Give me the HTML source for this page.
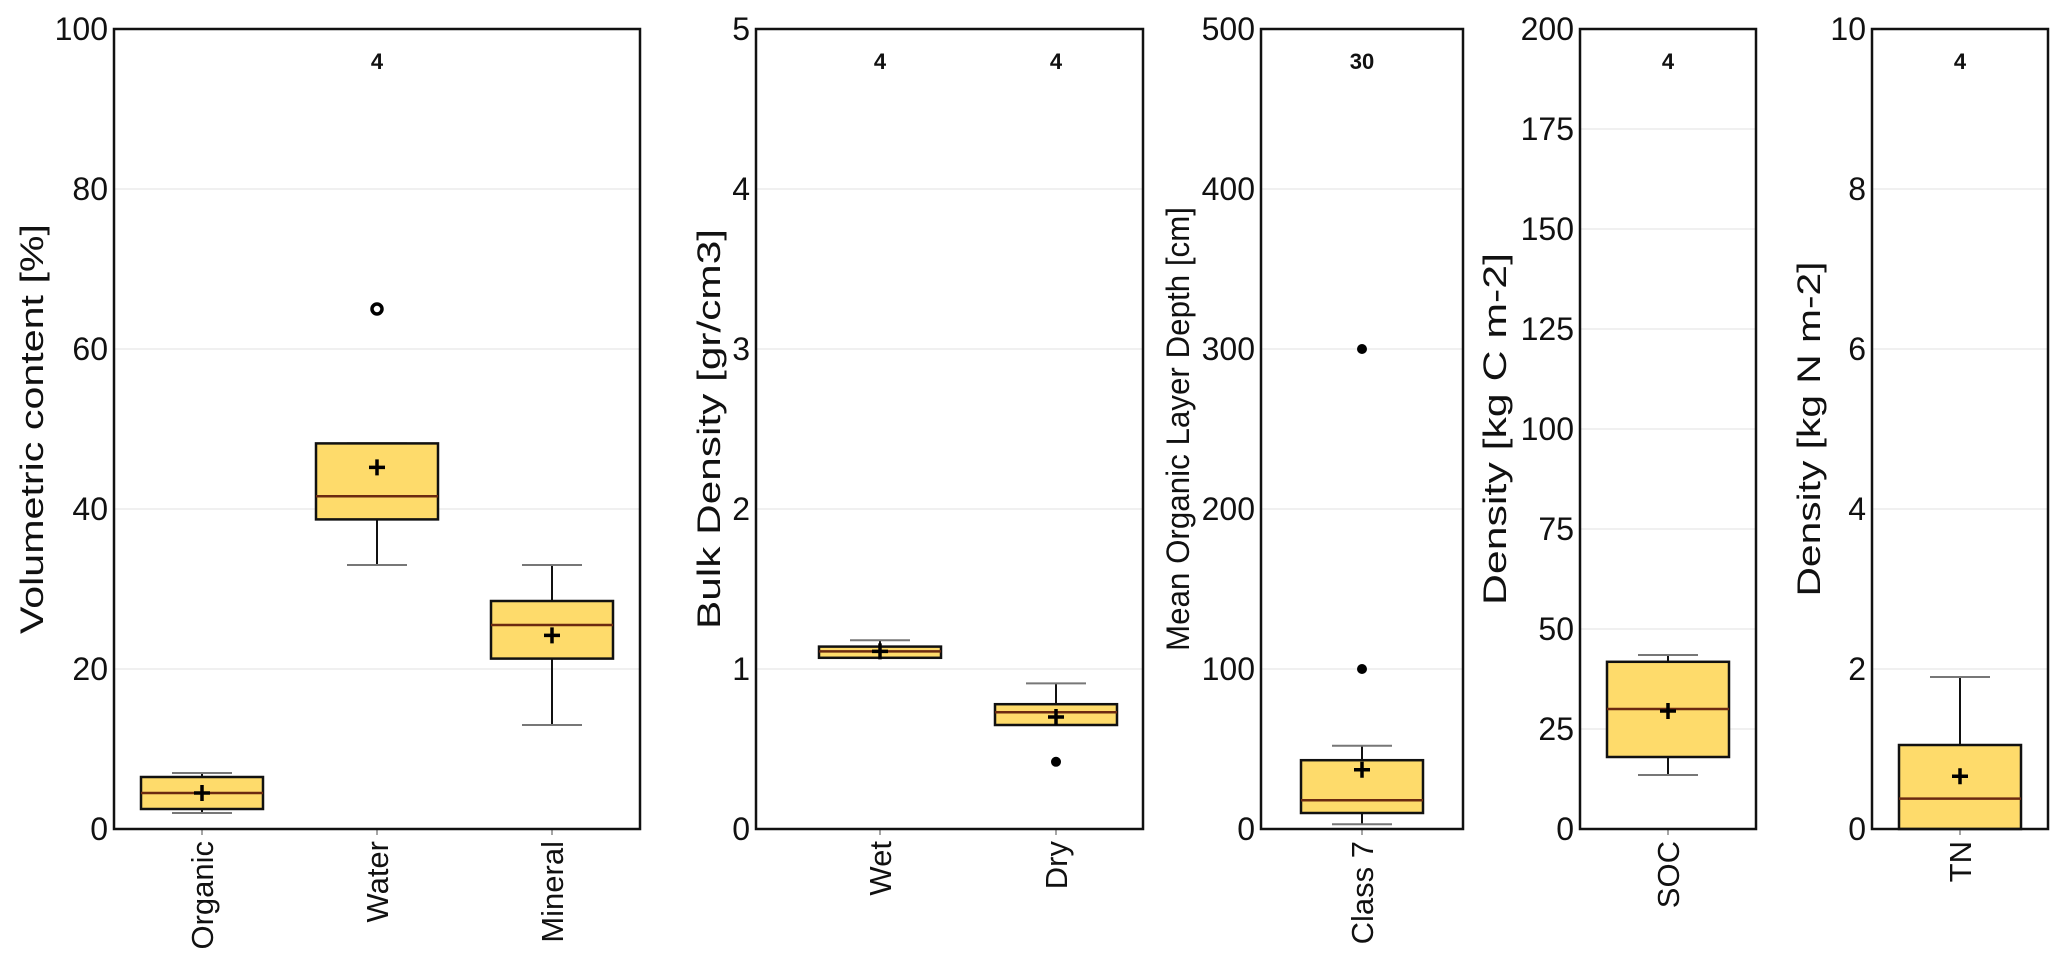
<!DOCTYPE html>
<html><head><meta charset="utf-8"><style>
html,body{margin:0;padding:0;background:#fff;}
svg{display:block;font-family:"Liberation Sans",Arial,sans-serif;}
</style></head><body>
<svg id="chart" width="2067" height="978" viewBox="0 0 2067 978" xmlns="http://www.w3.org/2000/svg"></svg>
<script>
const panelTitles = ["Volumetric content [%]","Bulk Density [gr/cm3]","Mean Organic Layer Depth [cm]","Density [kg C m-2]","Density [kg N m-2]"];
const panelMax = [100,5,500,200,10];
const panelTicks = [[0,20,40,60,80,100],[0,1,2,3,4,5],[0,100,200,300,400,500],[0,25,50,75,100,125,150,175,200],[0,2,4,6,8,10]];
const categories = [["Organic","Water","Mineral"],["Wet","Dry"],["Class 7"],["SOC"],["TN"]];
const counts = [[null,4,null],[4,4],[30],[4],[4]];
// [whiskerLow, q1, median, q3, whiskerHigh]
const boxStats = [
 [[2,2.5,4.5,6.5,7],[33,38.7,41.6,48.2,48.2],[13,21.3,25.5,28.5,33]],
 [[1.07,1.07,1.11,1.14,1.18],[0.65,0.65,0.73,0.78,0.91]],
 [[3,10,18,43,52]],
 [[13.5,18,30,41.8,43.5]],
 [[0,0,0.38,1.05,1.9]]
];
const means = [[4.5,45.2,24.2],[1.11,0.70],[37],[29.5],[0.66]];
const outliers = [[[],[65],[]],[[],[0.42]],[[100,300]],[[]],[[]]];

const layout = [
 {l:114,r:640,titleX:31,centers:[88,263,438],tl:410},
 {l:756,r:1143,titleX:708,centers:[124,300],tl:400},
 {l:1261,r:1463,titleX:1177,centers:[101],tl:444},
 {l:1580,r:1756,titleX:1494,centers:[88],tl:352},
 {l:1872,r:2048,titleX:1808,centers:[88],tl:335}
];
const TOP=29,BOT=829,BOXW=122;
const svg=document.getElementById('chart');
const NS="http://www.w3.org/2000/svg";
function mk(tag,attrs,parent){const e=document.createElementNS(NS,tag);for(const k in attrs)e.setAttribute(k,attrs[k]);(parent||svg).appendChild(e);return e;}
panelMax.forEach((mx,p)=>{
 const L=layout[p];
 const g=mk('g',{});
 
 
 const y=v=>BOT-(v/mx)*(BOT-TOP);
 panelTicks[p].forEach(t=>{
  if(t>0&&t<mx){const gl=mk('line',{x1:L.l,x2:L.r,y1:y(t),y2:y(t),stroke:'#ececec','stroke-width':1.5},g);
   
   }
  const tl=mk('text',{x:L.l-6,y:y(t)+11,'text-anchor':'end','font-size':32,fill:'#111'},g);
  tl.textContent=t;
  
  
 });
 const tt=mk('text',{x:0,y:0,transform:`translate(${L.titleX+12},${(TOP+BOT)/2}) rotate(-90)`,'text-anchor':'middle','font-size':32,fill:'#111',textLength:L.tl,lengthAdjust:'spacingAndGlyphs'},g);
 tt.textContent=panelTitles[p];
 
 
 categories[p].forEach((c,i)=>{
  const cx=L.l+L.centers[i];
  const s=boxStats[p][i];
  const cg=mk('g',{},g);
  
  
  mk('line',{x1:cx,x2:cx,y1:y(s[0]),y2:y(s[1]),stroke:'#111','stroke-width':2},cg);
  mk('line',{x1:cx,x2:cx,y1:y(s[3]),y2:y(s[4]),stroke:'#111','stroke-width':2},cg);
  mk('line',{x1:cx-30,x2:cx+30,y1:y(s[0]),y2:y(s[0]),stroke:'#777','stroke-width':2},cg);
  mk('line',{x1:cx-30,x2:cx+30,y1:y(s[4]),y2:y(s[4]),stroke:'#777','stroke-width':2},cg);
  mk('rect',{x:cx-BOXW/2,y:y(s[3]),width:BOXW,height:Math.max(1,y(s[1])-y(s[3])),fill:'#fedb6b',stroke:'#111','stroke-width':2.5},cg);
  mk('line',{x1:cx-BOXW/2,x2:cx+BOXW/2,y1:y(s[2]),y2:y(s[2]),stroke:'#6b2a10','stroke-width':2.5},cg);
  const my=y(means[p][i]);
  mk('path',{d:`M${cx-8},${my}H${cx+8}M${cx},${my-8}V${my+8}`,stroke:'#000','stroke-width':3.5},cg);
  outliers[p][i].forEach(o=>{
   const oc=mk('circle',{cx:cx,cy:y(o),r:p==0?5:4,fill:p==0?'#fff':'#000',stroke:'#000','stroke-width':p==0?3.5:2},cg);
   
   
  });
  if(counts[p][i]!=null){const ct=mk('text',{x:cx,y:69,'text-anchor':'middle','font-size':22,'font-weight':'bold',fill:'#111'},g);
   ct.textContent=counts[p][i];
   
   }
  mk('line',{x1:cx,x2:cx,y1:BOT,y2:BOT+6,stroke:'#888','stroke-width':1.5},g);
  const xl=mk('text',{x:0,y:0,transform:`translate(${cx+11},${BOT+12}) rotate(-90)`,'text-anchor':'end','font-size':31,fill:'#111'},g);
  xl.textContent=c;
  
  
 });
 const fr=mk('rect',{x:L.l,y:TOP,width:L.r-L.l,height:BOT-TOP,fill:'none',stroke:'#111','stroke-width':2.5},g);
 
 
});
</script>
</body></html>
